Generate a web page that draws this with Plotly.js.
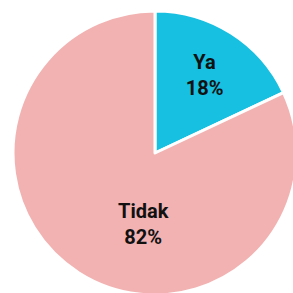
<!DOCTYPE html>
<html>
<head>
<meta charset="utf-8">
<script src="https://cdn.plot.ly/plotly-3.0.1.min.js"></script>
<style>
html,body{margin:0;padding:0;overflow:hidden;background:#fff;width:293px;height:293px;}
#chart{width:297px;height:295px;}
</style>
</head>
<body>
<div id="chart"></div>
<script>
const labels = ["Ya", "Tidak"];
const values = [18, 82];
const colors = ["#17BFE0", "#F2B2B2"];

const total = values.reduce((a, b) => a + b, 0);
const pct = values.map(v => Math.round(100 * v / total) + "%");
const font = {family: "Roboto, 'DejaVu Sans', sans-serif", size: 20, color: "#111111", weight: "bold"};

const trace = {
  type: "pie",
  labels: labels,
  values: values,
  sort: false,
  direction: "clockwise",
  rotation: 0,
  marker: {colors: colors, line: {color: "#ffffff", width: 3}},
  texttemplate: ["%{label}<br>%{percent:.0%}", ""],
  textposition: "inside",
  insidetextorientation: "horizontal",
  textfont: font,
  hoverinfo: "none",
  showlegend: false
};

const layout = {
  width: 297,
  height: 295,
  margin: {l: 13, r: 0, t: 11, b: 0},
  paper_bgcolor: "#ffffff",
  showlegend: false,
  annotations: [{
    text: labels[1] + "<br>" + pct[1],
    xref: "paper", yref: "paper",
    x: 0.458, y: 0.25,
    xanchor: "center", yanchor: "middle",
    showarrow: false,
    font: font
  }]
};

Plotly.newPlot("chart", [trace], layout, {staticPlot: true, displayModeBar: false});
</script>
</body>
</html>
